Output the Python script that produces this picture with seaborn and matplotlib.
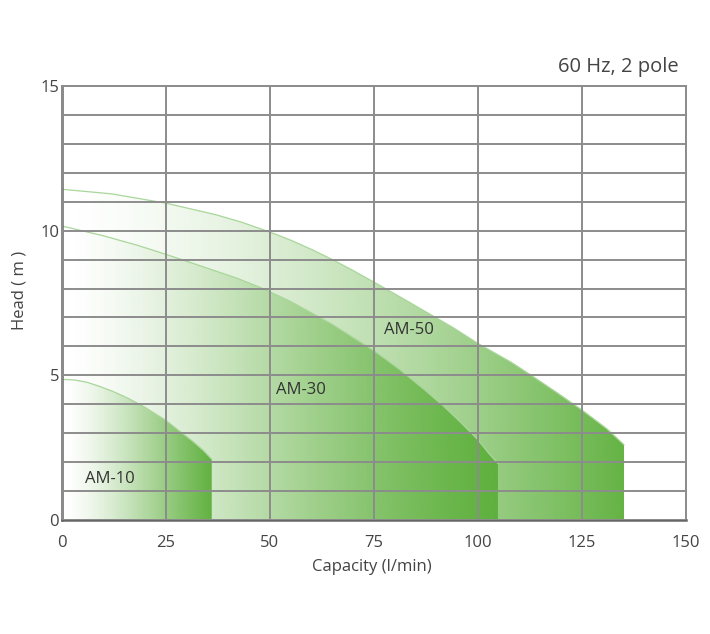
import numpy as np
import matplotlib
matplotlib.use("Agg")
import matplotlib.pyplot as plt
import seaborn as sns

# pump curves (capacity l/min, head m)
am10_cap = [0, 3, 6, 9, 12.3, 16, 19.5, 22, 25, 28, 31.6, 34, 36]
am10_head = [4.86, 4.84, 4.76, 4.62, 4.44, 4.2, 3.93, 3.71, 3.44, 3.1, 2.7, 2.4, 2.1]

am30_cap = [0, 10, 18, 25, 35, 42, 47.6, 55, 65, 75, 81, 87, 92, 96, 100, 102.5, 104.8]
am30_head = [10.16, 9.82, 9.5, 9.18, 8.7, 8.36, 8.04, 7.55, 6.76, 5.85, 5.22, 4.52, 3.9, 3.35, 2.77, 2.32, 1.95]

am50_cap = [0, 12, 25, 37, 43, 47.6, 52, 55, 60, 65, 70, 75, 82, 88, 94, 100, 108, 113, 119, 125, 131, 135.1]
am50_head = [11.43, 11.27, 10.95, 10.55, 10.3, 10.07, 9.84, 9.67, 9.35, 9.0, 8.62, 8.22, 7.65, 7.15, 6.65, 6.1, 5.45, 4.98, 4.4, 3.8, 3.15, 2.6]

models = ["AM-50", "AM-30", "AM-10"]
label_pos = {"AM-50": (83.4, 6.57), "AM-30": (57.5, 4.49), "AM-10": (11.5, 1.42)}

sns.set_style("white")
plt.rcParams['font.family'] = ['Open Sans', 'DejaVu Sans']

fig, ax = plt.subplots(figsize=(7.1, 6.34), dpi=100)
fig.subplots_adjust(left=0.0873, right=0.9662, bottom=0.1798, top=0.8644)

green = np.array([92, 175, 58]) / 255
curves = {"AM-50": (am50_cap, am50_head),
          "AM-30": (am30_cap, am30_head),
          "AM-10": (am10_cap, am10_head)}

for i, name in enumerate(models):
    cap, head = curves[name]
    poly = ax.fill_between(cap, 0, head, color='none', lw=0)
    n = 256
    grad = np.zeros((1, n, 4))
    grad[..., :3] = green
    grad[..., 3] = np.linspace(0, 1, n) ** 1.5 * 0.95
    im = ax.imshow(grad, extent=[0, cap[-1], 0, max(head)], aspect='auto',
                   origin='lower', zorder=1 + i * 0.1, interpolation='bilinear')
    im.set_clip_path(poly.get_paths()[0], transform=ax.transData)
    sns.lineplot(x=cap, y=head, ax=ax, color='#a9d69a', lw=0.9,
                 zorder=1.05 + i * 0.1, legend=False)
    ax.text(*label_pos[name], name, fontsize=12, color='#333333',
            ha='center', va='center', zorder=4)

ax.set_xlim(0, 150)
ax.set_ylim(0, 15)
ax.set_xticks(range(0, 151, 25))
ax.set_yticks([0, 5, 10, 15])
ax.set_yticks(range(16), minor=True)
ax.set_axisbelow(False)
ax.grid(which='both', color='#8c8c8c', lw=1.4, zorder=3)
ax.tick_params(which='both', length=0, labelsize=12, labelcolor='#444444')
ax.tick_params(axis='x', pad=11)
ax.tick_params(axis='y', pad=2)

for side in ['top', 'right']:
    ax.spines[side].set_color('#8c8c8c')
    ax.spines[side].set_linewidth(1.4)
for side in ['left', 'bottom']:
    ax.spines[side].set_color('#666666')
    ax.spines[side].set_linewidth(1.8)

ax.set_xlabel("Capacity (l/min)", fontsize=12, color='#444444')
ax.set_ylabel("Head ( m )", fontsize=12, color='#444444')
ax.xaxis.set_label_coords(0.497, -0.089)
ax.yaxis.set_label_coords(-0.056, 0.53)
ax.text(148.3, 15.66, "60 Hz, 2 pole", fontsize=14.5, color='#444444',
        ha='right', va='center')

fig.savefig("out.png", dpi=100)
